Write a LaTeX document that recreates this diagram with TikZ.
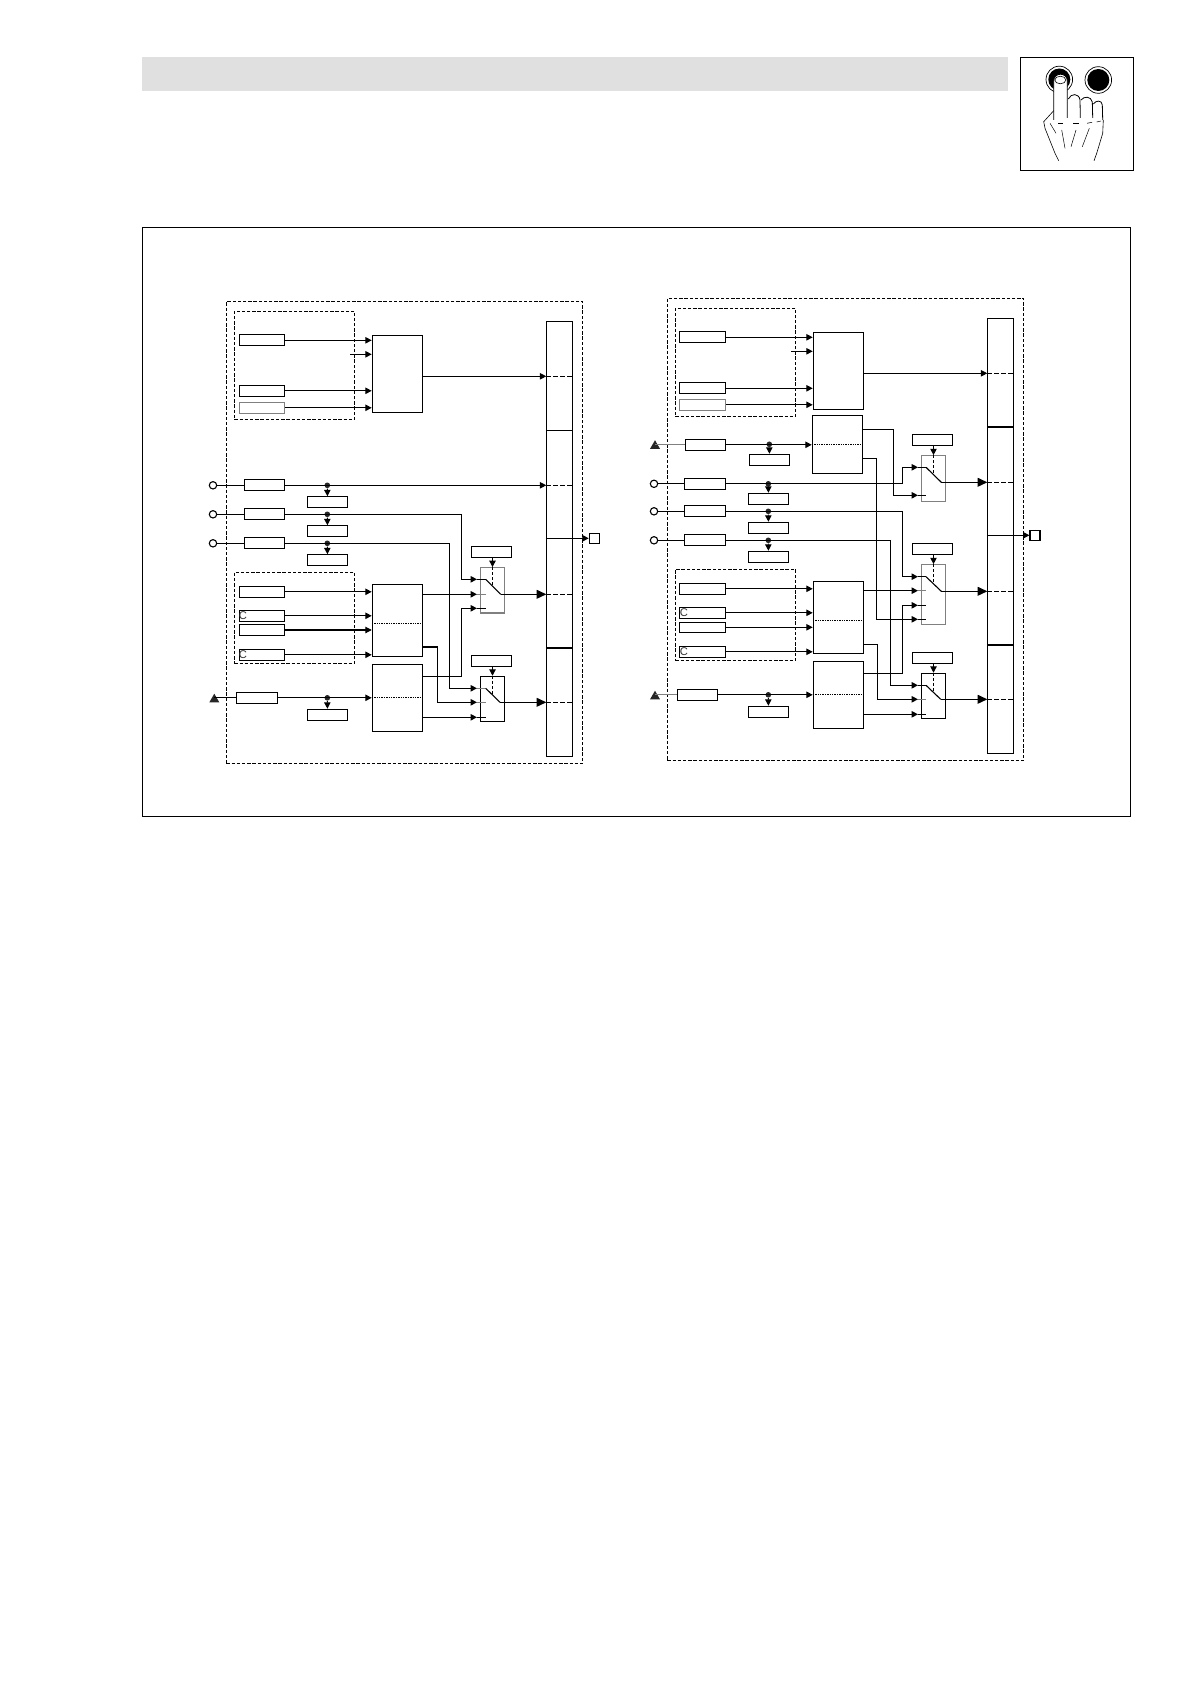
\documentclass[tikz,border=0pt]{standalone}
\usepackage{fontspec}
\setmainfont{Liberation Sans}
\usetikzlibrary{arrows.meta,shapes.geometric}
\definecolor{headgrey}{gray}{0.88}
\tikzset{
  box/.style={draw,inner sep=0pt,minimum height=5.5pt},
  lbox/.style={box,minimum width=22.7pt},
  inbox/.style={box,minimum width=20.4pt},
  block/.style={box,minimum width=25pt},
  swbox/.style={box,minimum width=12.2pt},
  bus/.style={box,minimum width=13pt,minimum height=217.5pt},
  dbox/.style={box,dash pattern=on 1.7pt off .9pt},
  term/.style={draw,circle,inner sep=0pt,minimum size=3.7pt,fill=white},
  port/.style={box,minimum width=5pt,minimum height=5pt},
  tri/.style={fill=black!85,regular polygon,regular polygon sides=3,inner sep=0pt,minimum size=5.8pt},
  dot/.style={fill=black!85,circle,inner sep=0pt,minimum size=2.8pt},
  clab/.style={inner sep=0pt,text=black!80,font=\fontsize{5.6}{6}\selectfont},
  arr/.style={-{Triangle[length=3.2pt,width=3.2pt]}},
  bigarr/.style={-{Triangle[length=4.8pt,width=4.4pt]}},
  tap/.style={dash pattern=on 2.5pt off 1pt},
  dots/.style={dash pattern=on .7pt off .5pt},
  stub/.style={draw=black!50},
  pale/.style={draw=black!50},
}
\begin{document}
\begin{tikzpicture}[x=0.5pt,y=-0.5pt,line width=.55pt]
  \useasboundingbox (0,0) rectangle (1190,1684);
  % page head
  \fill[headgrey] (142,57) rectangle (1008,90.7);
  \draw[line width=.6pt] (1020.3,57.3) rectangle (1133.3,170.3);
  \draw[line width=.7pt] (142.3,227.3) rectangle (1130.7,816.3);
  % buttons and hand
  \draw[line width=.35pt] (1059.3,79.5) circle (13.3);
  \fill (1059.3,79.5) circle (11);
  \draw[line width=.35pt] (1098.3,80) circle (13.3);
  \fill (1098.3,80) circle (11);
  \draw[fill=white,line width=.4pt] (1053.7,120) -- (1053.7,81) .. controls (1053.7,72) and (1067.3,72) .. (1067.3,81) -- (1067.3,118);
  \draw[line width=.3pt] (1060.3,80) ellipse (5.5 and 3.8);
  \draw[line width=.4pt] (1068.3,99) .. controls (1071,93) and (1079,93) .. (1080,100) -- (1080.3,118);
  \draw[line width=.4pt] (1081,100) .. controls (1084,96) and (1091,96) .. (1092.3,102) -- (1092.7,118);
  \draw[line width=.4pt] (1093.3,104) .. controls (1096,100) and (1102,100) .. (1102.3,105) -- (1102.7,120);
  \draw[line width=.3pt] (1053.7,110.7) -- (1043.7,121.7) -- (1045,128.3) -- (1055,153.3) -- (1058.7,160.7);
  \draw[line width=.3pt] (1103.3,120) -- (1102.7,133.3) -- (1096.7,153.3) -- (1094,160.7);
  \draw[line width=.25pt] (1050,123.3) -- (1056,133.3);
  \draw[line width=.25pt] (1058.3,123.3) -- (1063.3,123.3);
  \draw[line width=.25pt] (1061.7,130) -- (1065,148.3);
  \draw[line width=.25pt] (1073,123.3) -- (1079,123.3);
  \draw[line width=.25pt] (1076,130) -- (1071,146.7);
  \draw[line width=.25pt] (1087,123.3) -- (1092,122.3);
  \draw[line width=.25pt] (1089.3,128.3) -- (1082.3,146.7);
  \draw[line width=.25pt] (1096.7,122) -- (1101,121);

  % left panel
  \node[dbox,minimum width=178.2pt,minimum height=230.8pt] (frameL) at (404.5,532.5) {};
  \node[dbox,minimum width=60.2pt,minimum height=54pt] (groupLa) at (294.5,365.3) {};
  \node[dbox,minimum width=60.2pt,minimum height=45.7pt] (groupLb) at (294.5,618) {};
  \node[bus] (busL) at (559.3,538.8) {};
  \node[port] (outL) at (594.3,538.3) {};
  \draw (busL.west |- 0,430.3) -- (busL.east |- 0,430.3);
  \draw[line width=1.1pt] (busL.west |- 0,647.7) -- (busL.east |- 0,647.7);
  \draw[arr] (busL.west |- outL) -- (outL.west);
  \coordinate (tapLa) at (546.3,376.3);
  \coordinate (tapLb) at (546.3,485.3);
  \coordinate (tapLc) at (546.3,594.3);
  \coordinate (tapLd) at (546.3,702.3);
  \draw[tap] (tapLa) -- (tapLa -| busL.east);
  \draw[tap] (tapLb) -- (tapLb -| busL.east);
  \draw[tap] (tapLc) -- (tapLc -| busL.east);
  \draw[tap] (tapLd) -- (tapLd -| busL.east);

  \node[block,minimum height=38.5pt] (blkLa) at (397.3,373.8) {};
  \node[lbox] (parLa) at (262,340.3) {};
  \node[lbox] (parLb) at (262,390.8) {};
  \node[lbox,pale] (parLc) at (262,407.8) {};
  \coordinate (auxLa) at (350,354.3);
  \draw[arr] (parLa.east) -- (parLa.east -| blkLa.west);
  \draw[arr] (auxLa) -- (auxLa -| blkLa.west);
  \draw[arr] (parLb.east) -- (parLb.east -| blkLa.west);
  \draw[arr] (parLc.east) -- (parLc.east -| blkLa.west);
  \draw[arr] (blkLa.east |- tapLa) -- (tapLa);

  \node[term] (termLa) at (213,485.3) {};
  \node[term] (termLb) at (213,514.3) {};
  \node[term] (termLc) at (213,543.3) {};
  \node[inbox] (inLa) at (264.5,485.3) {};
  \node[inbox] (inLb) at (264.5,514.3) {};
  \node[inbox] (inLc) at (264.5,543.3) {};
  \node[inbox] (moLa) at (327.5,502.3) {};
  \node[inbox] (moLb) at (327.5,531.3) {};
  \node[inbox] (moLc) at (327.5,560.3) {};
  \node[dot] (dotLa) at (327.3,485.3) {};
  \node[dot] (dotLb) at (327.3,514.3) {};
  \node[dot] (dotLc) at (327.3,543.3) {};
  \draw (termLa) -- (inLa);
  \draw (termLb) -- (inLb);
  \draw (termLc) -- (inLc);
  \draw[arr] (dotLa) -- (moLa);
  \draw[arr] (dotLb) -- (moLb);
  \draw[arr] (dotLc) -- (moLc);
  \draw[arr] (inLa.east) -- (tapLb);

  \node[lbox] (parLd) at (262,591.8) {};
  \node[lbox] (parLe) at (262,615.8) {};
  \node[lbox] (parLf) at (262,630) {};
  \node[lbox] (parLg) at (262,654.8) {};
  \node[clab] (cLa) at (243,615.8) {C};
  \node[clab] (cLb) at (243,654.3) {C};
  \node[block,minimum height=36pt] (blkLb) at (397.3,620.3) {};
  \node[block,minimum height=33.5pt] (blkLc) at (397.3,697.8) {};
  \draw[dots] (blkLb.west |- 0,623.3) -- (blkLb.east |- 0,623.3);
  \draw[dots] (blkLc.west) -- (blkLc.east);
  \draw[arr] (parLd.east) -- (parLd.east -| blkLb.west);
  \draw[arr] (parLe.east) -- (parLe.east -| blkLb.west);
  \draw[arr] (parLf.east) -- (parLf.east -| blkLb.west);
  \draw[arr] (parLg.east) -- (parLg.east -| blkLb.west);

  \node[tri] (triLa) at (214.3,699.5) {};
  \node[inbox,minimum width=20.7pt] (inLd) at (257,697.8) {};
  \node[inbox] (moLd) at (327.5,714.8) {};
  \node[dot] (dotLd) at (327.3,697.8) {};
  \draw (inLd.west) -- (inLd.west -| triLa);
  \draw[arr] (inLd.east) -- (blkLc.west);
  \draw[arr] (dotLd) -- (moLd);

  \node[inbox] (ctlLa) at (491.5,551.8) {};
  \node[inbox] (ctlLb) at (491.5,661.2) {};
  \node[swbox,pale,minimum height=22.7pt] (swLa) at (492.5,590.3) {};
  \node[swbox,minimum height=22.5pt] (swLb) at (492.5,698.8) {};
  \coordinate (pinLa) at (477,579.3);
  \coordinate (pinLb) at (477,594.3);
  \coordinate (pinLc) at (477,608.3);
  \coordinate (pinLd) at (477,688.3);
  \coordinate (pinLe) at (477,702.3);
  \coordinate (pinLf) at (477,717.3);
  \draw (pinLa) -- ++(8.7,0);
  \draw[stub] (pinLb) -- ++(8.7,0);
  \draw (pinLc) -- ++(8.7,0);
  \draw[stub] (pinLd) -- ++(8.7,0);
  \draw[stub] (pinLe) -- ++(8.7,0);
  \draw (pinLf) -- ++(8.7,0);
  \draw[arr] (inLb.east) -- (461.3,514.3) |- (pinLa);
  \draw[arr] (blkLb.east |- pinLb) -- (pinLb);
  \draw[arr] (blkLc.east |- 0,676.3) -- (461.3,676.3) |- (pinLc);
  \draw[arr] (inLc.east) -- (449.7,543.3) |- (pinLd);
  \draw[arr] (blkLb.east |- 0,647) -- (437.3,647) |- (pinLe);
  \draw[arr] (blkLc.east |- pinLf) -- (pinLf);
  \draw[arr] (ctlLa.south -| swLa.north) -- (swLa.north);
  \draw[arr] (ctlLb.south -| swLb.north) -- (swLb.north);
  \draw[dash pattern=on 1.5pt off 1pt] (swLa.north) -- ++(0,18);
  \draw[dash pattern=on 1.5pt off 1pt] (swLb.north) -- ++(0,18);
  \draw (485.7,579.3) -- (500.7,594.3);
  \draw (485.7,688.3) -- (500,702.3);
  \draw[bigarr] (500.7,594.3) -- (tapLc);
  \draw[bigarr] (500,702.3) -- (tapLd);

  % right panel
  \node[dbox,minimum width=178.2pt,minimum height=231pt] (frameR) at (845.5,529.3) {};
  \node[dbox,minimum width=60.2pt,minimum height=54pt] (groupRa) at (735.5,362.3) {};
  \node[dbox,minimum width=60.2pt,minimum height=45.5pt] (groupRb) at (735.5,614.8) {};
  \node[bus] (busR) at (1000.3,535.8) {};
  \node[port] (outR) at (1035,535.3) {};
  \draw (busR.west |- 0,427) -- (busR.east |- 0,427);
  \draw[line width=1.1pt] (busR.west |- 0,644.7) -- (busR.east |- 0,644.7);
  \draw[arr] (busR.west |- outR) -- (outR.west);
  \coordinate (tapRa) at (987.3,373.3);
  \coordinate (tapRb) at (987.3,482.3);
  \coordinate (tapRc) at (987.3,591.3);
  \coordinate (tapRd) at (987.3,699.3);
  \draw[tap] (tapRa) -- (tapRa -| busR.east);
  \draw[tap] (tapRb) -- (tapRb -| busR.east);
  \draw[tap] (tapRc) -- (tapRc -| busR.east);
  \draw[tap] (tapRd) -- (tapRd -| busR.east);

  \node[block,minimum height=38.5pt] (blkRa) at (838.3,370.8) {};
  \node[lbox,minimum width=23.2pt] (parRa) at (702.5,337.3) {};
  \node[lbox,minimum width=23.2pt] (parRb) at (702.5,388.3) {};
  \node[lbox,minimum width=23.2pt,pale] (parRc) at (702.5,404.8) {};
  \coordinate (auxRa) at (791,351.3);
  \draw[arr] (parRa.east) -- (parRa.east -| blkRa.west);
  \draw[arr] (auxRa) -- (auxRa -| blkRa.west);
  \draw[arr] (parRb.east) -- (parRb.east -| blkRa.west);
  \draw[arr] (parRc.east) -- (parRc.east -| blkRa.west);
  \draw[arr] (blkRa.east |- tapRa) -- (tapRa);

  \node[block,minimum height=29pt] (blkRb) at (837.3,444.3) {};
  \draw[dots] (blkRb.west) -- (blkRb.east);
  \node[tri] (triRa) at (655,446) {};
  \node[inbox] (inRa) at (705.5,444.8) {};
  \node[inbox] (moRa) at (769.5,459.8) {};
  \node[dot] (dotRa) at (769.3,444.3) {};
  \draw[stub] (inRa.west) -- (inRa.west -| triRa);
  \draw[arr] (inRa.east) -- (inRa.east -| blkRb.west);
  \draw[arr] (dotRa) -- (moRa);

  \node[term] (termRa) at (654,483.8) {};
  \node[term] (termRb) at (654,511.3) {};
  \node[term] (termRc) at (654,540.3) {};
  \node[inbox,minimum width=20.7pt] (inRb) at (705,483.8) {};
  \node[inbox,minimum width=20.7pt] (inRc) at (705,511.3) {};
  \node[inbox,minimum width=20.7pt] (inRd) at (705,540.3) {};
  \node[inbox] (moRb) at (768.5,498.8) {};
  \node[inbox] (moRc) at (768.5,527.8) {};
  \node[inbox] (moRd) at (768.5,556.8) {};
  \node[dot] (dotRb) at (768.3,483.8) {};
  \node[dot] (dotRc) at (768.3,511.3) {};
  \node[dot] (dotRd) at (768.3,540.3) {};
  \draw (termRa) -- (inRb);
  \draw (termRb) -- (inRc);
  \draw (termRc) -- (inRd);
  \draw[arr] (dotRb) -- (moRb);
  \draw[arr] (dotRc) -- (moRc);
  \draw[arr] (dotRd) -- (moRd);

  \node[lbox,minimum width=23.2pt] (parRd) at (702.5,588.8) {};
  \node[lbox,minimum width=23.2pt] (parRe) at (702.5,612.8) {};
  \node[lbox,minimum width=23.2pt,minimum height=5pt] (parRf) at (702.5,627.3) {};
  \node[lbox,minimum width=23.2pt] (parRg) at (702.5,651.8) {};
  \node[clab] (cRa) at (684,612.8) {C};
  \node[clab] (cRb) at (684,651.8) {C};
  \node[block,minimum height=36pt] (blkRc) at (838.3,617.3) {};
  \node[block,minimum height=33.5pt] (blkRd) at (838.3,694.8) {};
  \draw[dots] (blkRc.west |- 0,620.3) -- (blkRc.east |- 0,620.3);
  \draw[dots] (blkRd.west) -- (blkRd.east);
  \draw[arr] (parRd.east) -- (parRd.east -| blkRc.west);
  \draw[arr] (parRe.east) -- (parRe.east -| blkRc.west);
  \draw[arr] (parRf.east) -- (parRf.east -| blkRc.west);
  \draw[arr] (parRg.east) -- (parRg.east -| blkRc.west);

  \node[tri] (triRb) at (655,696.5) {};
  \node[inbox] (inRe) at (697.5,694.8) {};
  \node[inbox] (moRe) at (768.5,711.8) {};
  \node[dot] (dotRe) at (768.3,694.8) {};
  \draw[stub] (inRe.west) -- (inRe.west -| triRb);
  \draw[arr] (inRe.east) -- (blkRd.west);
  \draw[arr] (dotRe) -- (moRe);

  \node[inbox] (ctlRa) at (932.5,439.8) {};
  \node[inbox] (ctlRb) at (932.5,548.8) {};
  \node[inbox] (ctlRc) at (932.5,657.8) {};
  \node[swbox,pale,minimum height=22.8pt] (swRa) at (933.5,478.5) {};
  \node[swbox,pale,minimum height=30.1pt] (swRb) at (933.5,594.8) {};
  \node[swbox,minimum height=22.5pt] (swRc) at (933.5,695.8) {};
  \coordinate (pinRa) at (918,467.3);
  \coordinate (pinRb) at (918,495.3);
  \coordinate (pinRc) at (918,576.7);
  \coordinate (pinRd) at (918,590.7);
  \coordinate (pinRe) at (918,605.3);
  \coordinate (pinRf) at (918,619.3);
  \coordinate (pinRg) at (918,685.3);
  \coordinate (pinRh) at (918,699.3);
  \coordinate (pinRi) at (918,714.3);
  \draw (pinRa) -- ++(8,0);
  \draw (pinRb) -- ++(8,0);
  \draw (pinRc) -- ++(8,0);
  \draw[stub] (pinRd) -- ++(8,0);
  \draw (pinRe) -- ++(8,0);
  \draw (pinRf) -- ++(8,0);
  \draw (pinRg) -- ++(8,0);
  \draw[stub] (pinRh) -- ++(8,0);
  \draw (pinRi) -- ++(8,0);
  \draw[arr] (inRb.east) -- (902.3,483.8) |- (pinRa);
  \draw[arr] (blkRb.east |- 0,429.3) -- (893.3,429.3) |- (pinRb);
  \draw[arr] (inRc.east) -- (902.3,511.3) |- (pinRc);
  \draw[arr] (blkRc.east |- pinRd) -- (pinRd);
  \draw[arr] (blkRd.east |- 0,673.3) -- (902.3,673.3) |- (pinRe);
  \draw[arr] (blkRb.east |- 0,458.3) -- (876.3,458.3) |- (pinRf);
  \draw[arr] (inRd.east) -- (890.3,540.3) |- (pinRg);
  \draw[arr] (blkRc.east |- 0,644.3) -- (877.3,644.3) |- (pinRh);
  \draw[arr] (blkRd.east |- pinRi) -- (pinRi);
  \draw[arr] (ctlRa.south -| swRa.north) -- (swRa.north);
  \draw[arr] (ctlRb.south -| swRb.north) -- (swRb.north);
  \draw[arr] (ctlRc.south -| swRc.north) -- (swRc.north);
  \draw[dash pattern=on 1.5pt off 1pt] (swRa.north) -- ++(0,18);
  \draw[dash pattern=on 1.5pt off 1pt] (swRb.north) -- ++(0,18);
  \draw[dash pattern=on 1.5pt off 1pt] (swRc.north) -- ++(0,18);
  \draw (926,467.3) -- (941.3,482.3);
  \draw (926,576.7) -- (941.3,591.3);
  \draw (926,685.3) -- (940.7,699.3);
  \draw[bigarr] (941.3,482.3) -- (tapRb);
  \draw[bigarr] (941.3,591.3) -- (tapRc);
  \draw[bigarr] (940.7,699.3) -- (tapRd);
\end{tikzpicture}
\end{document}
